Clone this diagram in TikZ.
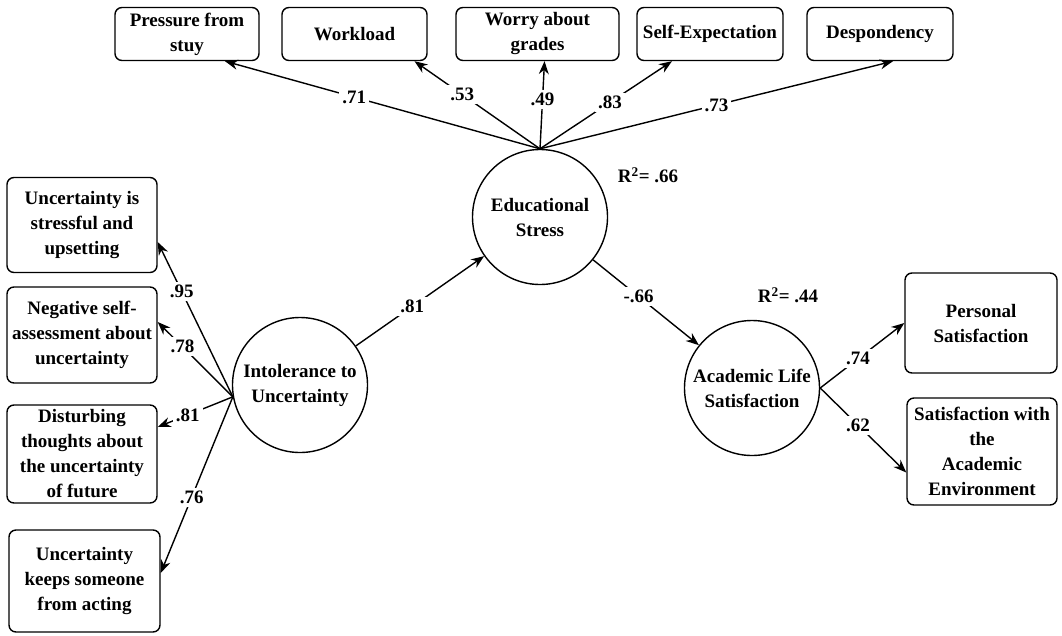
\documentclass[tikz,border=0pt]{standalone}
\usepackage{fontspec}
\setmainfont{Liberation Serif}
\usetikzlibrary{arrows.meta}

\begin{document}
\begin{tikzpicture}[
    x=1pt, y=-1pt,
    font=\fontsize{19}{25}\selectfont\bfseries,
    box/.style={rectangle, draw, rounded corners=7pt, line width=1.4pt, align=center, inner sep=2pt},
    latent/.style={circle, draw, line width=1.4pt, minimum size=135pt, align=center, inner sep=0pt},
    arrow/.style={-{Stealth[length=13pt,width=10pt]}, line width=1.4pt},
    coef/.style={fill=white, inner sep=3pt}
]
\useasboundingbox (0,0) rectangle (1062,635);
\fill[white] (0,0) rectangle (1062,635);

% Latent variables
\node[latent] (edu) at (540,217) {Educational\\Stress};
\node[latent] (intol) at (300,385) {Intolerance to\\Uncertainty};
\node[latent] (als) at (752,388) {Academic Life\\Satisfaction};

% Indicators of educational stress
\node[box, minimum width=144pt, minimum height=53pt] (pres) at (187,34) {Pressure from\\stuy};
\node[box, minimum width=145pt, minimum height=53pt] (work) at (354.5,34) {Workload};
\node[box, minimum width=163pt, minimum height=53pt] (worry) at (537.5,34) {Worry about\\grades};
\node[box, minimum width=146pt, minimum height=53pt] (selfexp) at (710,34) {Self-Expectation};
\node[box, minimum width=146pt, minimum height=53pt] (desp) at (880,34) {Despondency};

% Indicators of intolerance to uncertainty
\node[box, minimum width=150pt, minimum height=95pt] (stress) at (82,225) {Uncertainty is\\stressful and\\upsetting};
\node[box, minimum width=150pt, minimum height=96pt] (negself) at (82,335) {Negative self-\\assessment about\\uncertainty};
\node[box, minimum width=150pt, minimum height=98pt] (disturb) at (82,454) {Disturbing\\thoughts about\\the uncertainty\\of future};
\node[box, minimum width=151pt, minimum height=102pt] (keeps) at (84.5,581) {Uncertainty\\keeps someone\\from acting};

% Indicators of academic life satisfaction
\node[box, minimum width=152pt, minimum height=100pt] (pers) at (981,323) {Personal\\Satisfaction};
\node[box, minimum width=150pt, minimum height=107pt] (env) at (982,451.5) {Satisfaction with\\the\\Academic\\Environment};

% R squared
\node (r2edu) at (648,175) {R\textsuperscript{2}= .66};
\node (r2als) at (788,295) {R\textsuperscript{2}= .44};

% Paths
\draw[arrow] (intol) -- node[coef, pos=.44] {.81} (edu);
\draw[arrow] (edu) -- node[coef, pos=.43] {-.66} (als);

\draw[arrow] (edu.north) -- node[coef, pos=.59] {.71} ([xshift=38pt]pres.south);
\draw[arrow] (edu.north) -- node[coef, pos=.62] {.53} ([xshift=60pt]work.south);
\draw[arrow] (edu.north) -- node[coef, pos=.56] {.49} ([xshift=7pt]worry.south);
\draw[arrow] (edu.north) -- node[coef, pos=.53] {.83} ([xshift=-38pt]selfexp.south);
\draw[arrow] (edu.north) -- node[coef, pos=.50] {.73} ([xshift=13pt]desp.south);

\draw[arrow] (intol.190) -- node[coef, pos=.68] {.95} ([yshift=-17pt]stress.east);
\draw[arrow] (intol.190) -- node[coef, pos=.67] {.78} ([yshift=13pt]negself.east);
\draw[arrow] (intol.190) -- node[coef, pos=.60] {.81} ([yshift=27pt]disturb.east);
\draw[arrow] (intol.190) -- node[coef, pos=.57] {.76} ([yshift=8pt]keeps.east);

\draw[arrow] (als.east) -- node[coef, pos=.45] {.74} (pers.west);
\draw[arrow] (als.east) -- node[coef, pos=.44] {.62} ([yshift=-21pt]env.west);

\end{tikzpicture}
\end{document}
